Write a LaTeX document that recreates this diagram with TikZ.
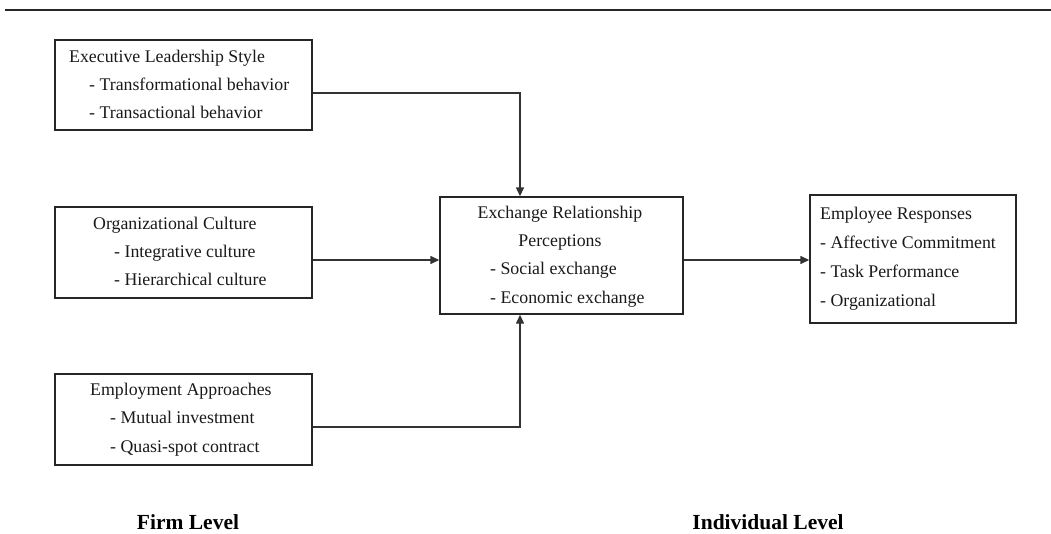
\documentclass[tikz,border=0pt]{standalone}
\usepackage{fontspec}
\setmainfont{Liberation Serif}
\usetikzlibrary{arrows.meta}
\begin{document}
\begin{tikzpicture}[x=1pt,y=-1pt,
  box/.style={draw=black!85,line width=1.4pt,inner sep=0pt},
  txt/.style={anchor=base west,inner sep=0pt,font=\fontsize{17.8}{20}\selectfont,text=black!90},
  ctxt/.style={anchor=base,inner sep=0pt,font=\fontsize{17.8}{20}\selectfont,text=black!90},
  lvl/.style={anchor=base,inner sep=0pt,font=\fontsize{21.5}{24}\selectfont\bfseries},
  conn/.style={draw=black!80,line width=1.4pt},
  arr/.style={conn,-{Triangle[length=9pt,width=8pt]}}]
\useasboundingbox (0,0) rectangle (1051,533);
% top rule
\coordinate (ruleL) at (5,10);
\coordinate (ruleR) at (1051,10);
\draw[line width=2.2pt,black!85] (ruleL) -- (ruleR);
% boxes
\node[box,minimum width=257pt,minimum height=90pt] (exec) at (183.5,85) {};
\node[box,minimum width=257pt,minimum height=91pt] (cult) at (183.5,252.5) {};
\node[box,minimum width=257pt,minimum height=91pt] (empl) at (183.5,419.5) {};
\node[box,minimum width=243pt,minimum height=117pt] (exch) at (561.5,255.5) {};
\node[box,minimum width=206pt,minimum height=128pt] (resp) at (913,259) {};
% texts
\node[txt] (e1) at (69,62) {Executive Leadership Style};
\node[txt] (e2) at (89,90) {- Transformational behavior};
\node[txt] (e3) at (89,118) {- Transactional behavior};
\node[txt] (c1) at (93,229) {Organizational Culture};
\node[txt] (c2) at (114,257) {- Integrative culture};
\node[txt] (c3) at (114,285) {- Hierarchical culture};
\node[txt] (m1) at (90,395) {Employment Approaches};
\node[txt] (m2) at (110,423) {- Mutual investment};
\node[txt] (m3) at (110,452) {- Quasi-spot contract};
\node[ctxt] (x1) at (560,218) {Exchange Relationship};
\node[ctxt] (x2) at (560,246) {Perceptions};
\node[txt] (x3) at (490,274) {- Social exchange};
\node[txt] (x4) at (490,303) {- Economic exchange};
\node[txt] (r1) at (820,219) {Employee Responses};
\node[txt] (r2) at (820,248) {- Affective Commitment};
\node[txt] (r3) at (820,277) {- Task Performance};
\node[txt] (r4) at (820,306) {- Organizational};
\node[lvl] (firm) at (188,529) {Firm Level};
\node[lvl] (indiv) at (768,529) {Individual Level};
% connectors
\draw[arr] (exec.east |- 0,93) -| (exch.north -| 520,0);
\draw[arr] (cult.east |- 0,260) -- (exch.west |- 0,260);
\draw[arr] (empl.east |- 0,427) -| (exch.south -| 520,0);
\draw[arr] (exch.east |- 0,260) -- (resp.west |- 0,260);
\end{tikzpicture}
\end{document}
